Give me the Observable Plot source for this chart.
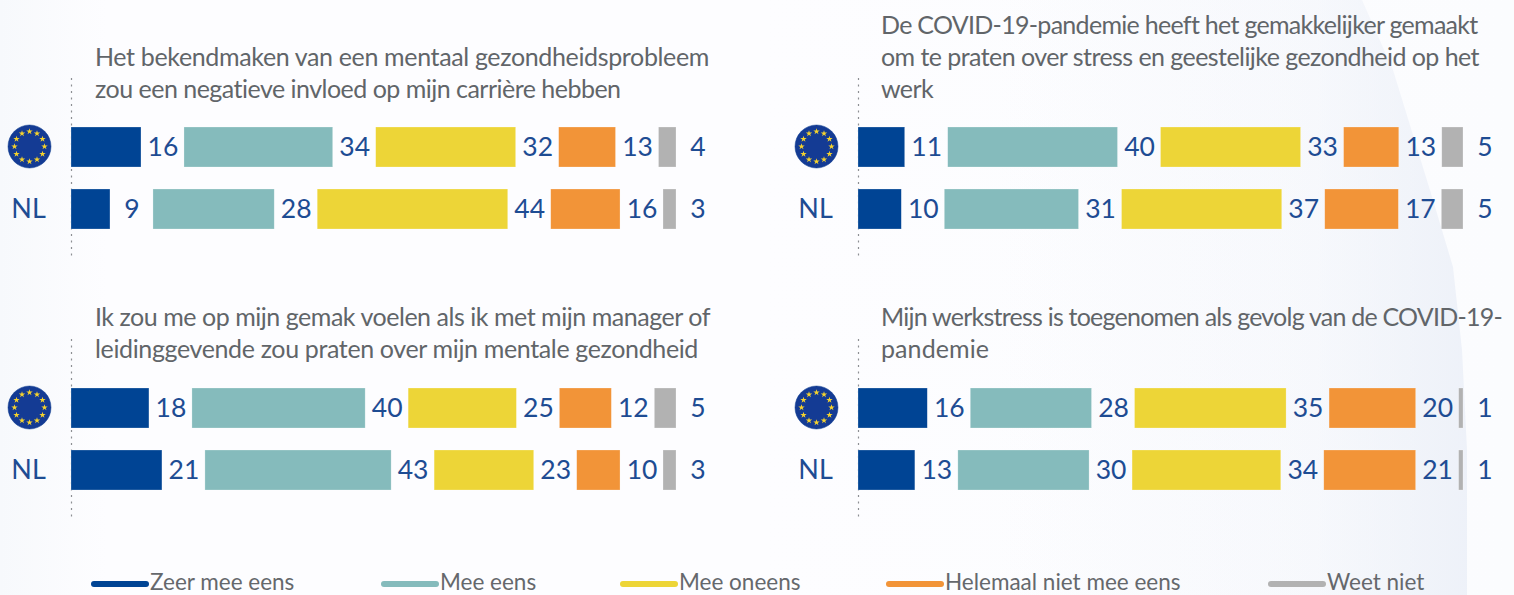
<!DOCTYPE html>
<html><head><meta charset="utf-8">
<script src="https://cdn.jsdelivr.net/npm/d3@7"></script>
<script src="https://cdn.jsdelivr.net/npm/@observablehq/plot@0.6"></script>
<style>
html,body{margin:0;padding:0;background:#fff}
#page{position:relative;width:1514px;height:595px;overflow:hidden;font-family:Lato,"Open Sans",sans-serif;
 background:linear-gradient(180deg,#fcfdfe 0%,#fefeff 40%,#f7f8fc 100%)}
#bgA{position:absolute;left:0;top:0;height:595px;width:755px;background:linear-gradient(90deg,#f7f9fc 0,#fdfdff 14%,#fdfdff 100%)}
#bgB{position:absolute;left:755px;top:0;width:759px;height:595px;background:linear-gradient(90deg,#fdfdff,#fbfcfe 100%)}
#bgC{position:absolute;left:1000px;top:0;width:514px;height:595px;background:linear-gradient(90deg,rgba(236,240,248,0) 0%,rgba(236,240,248,.3) 60%,rgba(236,240,248,.9) 92%);clip-path:polygon(0 0,362px 0,393px 70px,433px 200px,453px 267px,462px 350px,467px 450px,467px 595px,0 595px)}
.title{position:absolute;color:#616569;font-size:25px;line-height:32px;white-space:nowrap}
.title span{display:block;width:max-content}
.legend{position:absolute;top:571px;color:#65686c;font-size:22.5px;line-height:22px;white-space:nowrap}
.sw{position:absolute;top:581px;height:5.5px;border-radius:3px}
</style></head><body>
<div id="page"><div id="bgA"></div><div id="bgB"></div><div id="bgC"></div></div>
<script>
const categories = ["Zeer mee eens","Mee eens","Mee oneens","Helemaal niet mee eens","Weet niet"];
const colors = ["#004494","#85BBBC","#EDD537","#F29438","#B2B2B2"];
const rows = ["EU","NL"];
const panel1EU = [16,34,32,13,4], panel1NL = [9,28,44,16,3];
const panel2EU = [11,40,33,13,5], panel2NL = [10,31,37,17,5];
const panel3EU = [18,40,25,12,5], panel3NL = [21,43,23,10,3];
const panel4EU = [16,28,35,20,1], panel4NL = [13,30,34,21,1];
const title1 = ["Het bekendmaken van een mentaal gezondheidsprobleem","zou een negatieve invloed op mijn carrière hebben"];
const title2 = ["De COVID-19-pandemie heeft het gemakkelijker gemaakt","om te praten over stress en geestelijke gezondheid op het","werk"];
const title3 = ["Ik zou me op mijn gemak voelen als ik met mijn manager of","leidinggevende zou praten over mijn mentale gezondheid"];
const title4 = ["Mijn werkstress is toegenomen als gevolg van de COVID-19-","pandemie"];
const titleWidths1 = [614,526], titleWidths2 = [596,598,52], titleWidths3 = [615,603], titleWidths4 = [621,108];
const legendSwatchX = [91,381,620,886,1268];

const GAP = 9.93;
const page = document.getElementById("page");
const starAngles = d3.range(12).map(i => i*Math.PI/6);

function segments(eu, nl){
  const out = [];
  for (const [row, vals] of [["EU",eu],["NL",nl]]) {
    const total = d3.sum(vals); let cum = 0;
    vals.forEach((v,i) => {
      const x1 = cum/total*100 + i*GAP;
      const x2 = (cum+v)/total*100 + i*GAP;
      out.push({row, cat:categories[i], value:v, x1, x2, xl:x2+GAP/2});
      cum += v;
    });
  }
  return out;
}

function panel(left, top, eu, nl){
  const data = segments(eu, nl);
  const W = left === 0 ? 757 : 727;
  const chart = Plot.plot({
    width: W, height: 181,
    margin: 0, marginLeft: 71,
    style:{background:"transparent", overflow:"visible", fontFamily:"Lato, 'Open Sans', sans-serif"},
    x:{axis:null, domain:[0,100+4*GAP], range:[71,676]},
    y:{axis:null, domain:rows, range:[26,173.5], padding:.36},
    color:{domain:categories, range:colors},
    marks:[
      Plot.ruleX([0],{stroke:"#8d8f93", strokeWidth:1.2, strokeDasharray:"2 4.5"}),
      Plot.barX(data,{x1:"x1", x2:"x2", y:"row", fill:"cat", stroke:"#fff", strokeOpacity:.4, strokeWidth:.6}),
      Plot.text(data,{x:"xl", y:"row", text:d=>String(d.value), fill:"#1E4C93", fontSize:26.5, textAnchor:"middle"}),
      Plot.text(["NL"],{y:()=>"NL", text:d=>d, frameAnchor:"left", dx:-43, fill:"#1E4C93", fontSize:27, textAnchor:"middle"}),
      Plot.dot(["EU"],{y:d=>d, frameAnchor:"left", dx:-42, dy:-1, r:21.5, fill:"#143b94", stroke:"#0a3a8c", strokeWidth:.5}),
      ...starAngles.map(a => Plot.dot(["EU"],{y:d=>d, frameAnchor:"left", dx:-42+15*Math.cos(a), dy:-1+15*Math.sin(a), symbol:"star", r:2, fill:"#F6D32D"}))
    ]
  });
  chart.style.position = "absolute";
  chart.style.left = left + "px";
  chart.style.top = top + "px";
  page.appendChild(chart);
}
function title(x, y, lines, widths){
  const d = document.createElement("div");
  d.className = "title";
  d.style.left = x+"px"; d.style.top = y+"px";
  lines.forEach((l,i) => {
    const s = document.createElement("span");
    s.textContent = l;
    d.appendChild(s);
  });
  page.appendChild(d);
  [...d.children].forEach((s,i) => {
    const w = s.getBoundingClientRect().width;
    s.style.letterSpacing = ((widths[i]-w)/s.textContent.length).toFixed(3)+"px";
  });
}
panel(0,78,panel1EU,panel1NL);
panel(787,78,panel2EU,panel2NL);
panel(0,339,panel3EU,panel3NL);
panel(787,339,panel4EU,panel4NL);
title(95,40,title1,titleWidths1);
title(881,8,title2,titleWidths2);
title(95,300,title3,titleWidths3);
title(881,300,title4,titleWidths4);
categories.forEach((c,i) => {
  const s = document.createElement("div"); s.className="sw";
  s.style.left = legendSwatchX[i]+"px"; s.style.width="58px"; s.style.background = colors[i];
  page.appendChild(s);
  const t = document.createElement("div"); t.className="legend";
  t.style.left = (legendSwatchX[i]+59)+"px"; t.textContent = c;
  page.appendChild(t);
});
</script></body></html>
